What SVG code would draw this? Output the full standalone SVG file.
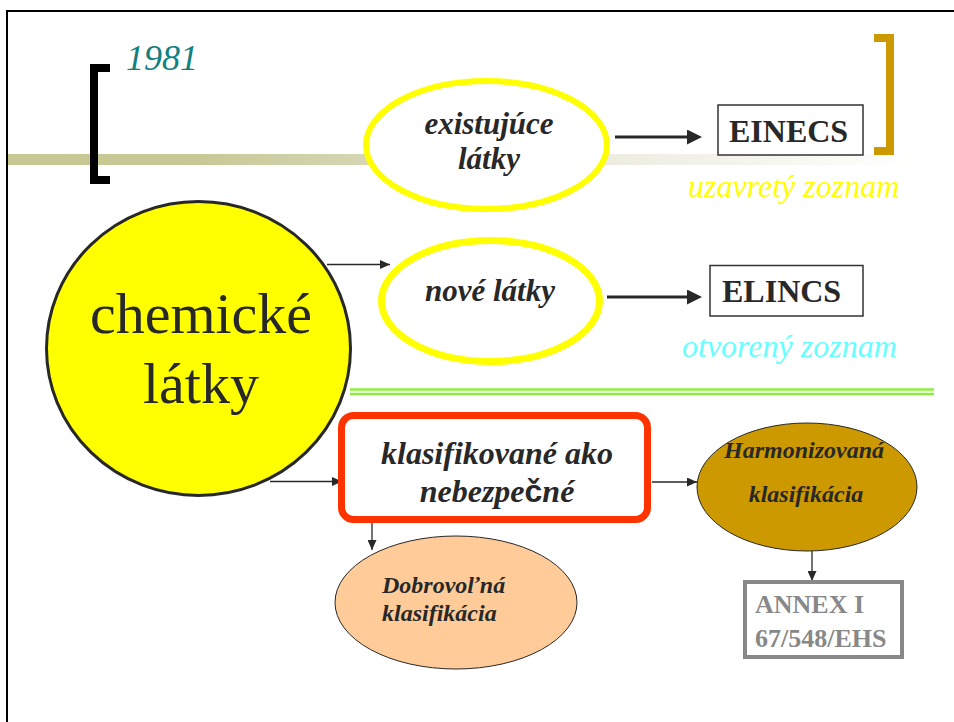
<svg xmlns="http://www.w3.org/2000/svg" width="954" height="722" viewBox="0 0 954 722">
<style>
  .serif { font-family: "Liberation Serif", "Times New Roman", serif; }
  .bi { font-family: "Liberation Serif", "Times New Roman", serif; font-weight: bold; font-style: italic; fill: #282828; }
  .b { font-family: "Liberation Serif", "Times New Roman", serif; font-weight: bold; fill: #282828; }
  .it { font-family: "Liberation Serif", "Times New Roman", serif; font-style: italic; }
  .mid { text-anchor: middle; }
  .thick { stroke: #282828; stroke-width: 3; fill: none; }
  .thin { stroke: #282828; stroke-width: 1.3; fill: none; }
  .yell { fill: #ffffff; stroke: #ffff00; }
</style>
<defs>
  <linearGradient id="band" gradientUnits="userSpaceOnUse" x1="8" y1="0" x2="920" y2="0">
    <stop offset="0" stop-color="#c8c894"/>
    <stop offset="0.22" stop-color="#c9c998"/>
    <stop offset="0.4" stop-color="#d6d6b6"/>
    <stop offset="0.66" stop-color="#ecece0"/>
    <stop offset="1" stop-color="#ffffff"/>
  </linearGradient>
  <marker id="bigArrow" markerUnits="userSpaceOnUse" markerWidth="15" markerHeight="15" refX="3" refY="7.5" orient="auto">
    <path d="M0,0 L15,7.5 L0,15 z" fill="#282828"/>
  </marker>
  <marker id="smallArrow" markerUnits="userSpaceOnUse" markerWidth="10" markerHeight="9" refX="10" refY="4.5" orient="auto">
    <path d="M0,0 L10,4.5 L0,9 z" fill="#282828"/>
  </marker>
</defs>

<rect width="954" height="722" fill="#ffffff"/>
<rect id="frame" x="7" y="11" width="960" height="730" fill="none" stroke="#000000" stroke-width="2"/>

<g id="decor">
  <rect x="8" y="154" width="912" height="11" fill="url(#band)"/>
  <path d="M110,68 H94 V180 H110" fill="none" stroke="#000000" stroke-width="8"/>
  <text class="it" x="126" y="70" font-size="36" fill="#138080">1981</text>
  <path d="M874,38 H890 V151 H874" fill="none" stroke="#cc9900" stroke-width="8"/>
  <line x1="350" y1="389.5" x2="934" y2="389.5" stroke="#8fee3c" stroke-width="2.5"/>
  <line x1="350" y1="394" x2="934" y2="394" stroke="#8fee3c" stroke-width="2.5"/>
  <line x1="350" y1="391.7" x2="934" y2="391.7" stroke="#e4ffd0" stroke-width="1.2"/>
</g>

<g id="connectors">
  <line class="thick" x1="615" y1="137" x2="690" y2="137" marker-end="url(#bigArrow)"/>
  <line class="thick" x1="607" y1="297" x2="690" y2="297" marker-end="url(#bigArrow)"/>
  <line class="thin" x1="327" y1="264.5" x2="390" y2="264.5" marker-end="url(#smallArrow)"/>
  <line class="thin" x1="270" y1="481.5" x2="342" y2="481.5" marker-end="url(#smallArrow)"/>
  <line class="thin" x1="652" y1="482" x2="697" y2="482" marker-end="url(#smallArrow)"/>
  <line class="thin" x1="372" y1="523" x2="372" y2="550" marker-end="url(#smallArrow)"/>
  <line class="thin" x1="812" y1="551" x2="812" y2="581" marker-end="url(#smallArrow)"/>
</g>

<g id="existujuce">
  <ellipse class="yell" cx="486.5" cy="145" rx="120.5" ry="64" stroke-width="6"/>
  <text class="bi mid" x="489" y="134" font-size="31">existujúce</text>
  <text class="bi mid" x="489" y="169" font-size="31">látky</text>
</g>

<g id="einecs">
  <rect x="718" y="105" width="145" height="50" fill="#ffffff" stroke="#333333" stroke-width="1.5"/>
  <text class="b" x="729" y="142" font-size="32">EINECS</text>
  <text class="it" x="688" y="197" font-size="32" fill="#ffff00">uzavretý zoznam</text>
</g>

<g id="chemicke">
  <ellipse cx="198.5" cy="348.5" rx="152" ry="147" fill="#ffff00" stroke="#282828" stroke-width="3"/>
  <text class="serif mid" x="201" y="333" font-size="58" fill="#282828">chemické</text>
  <text class="serif mid" x="201" y="403" font-size="58" fill="#282828">látky</text>
</g>

<g id="nove">
  <ellipse class="yell" cx="490.5" cy="301" rx="109" ry="60.5" stroke-width="7"/>
  <text class="bi mid" x="490" y="301" font-size="31">nové látky</text>
</g>

<g id="elincs">
  <rect x="710" y="265.5" width="153" height="50.5" fill="#ffffff" stroke="#333333" stroke-width="1.5"/>
  <text class="b" x="722" y="302" font-size="32">ELINCS</text>
  <text class="it" x="682" y="357" font-size="32" fill="#66ffff">otvorený zoznam</text>
</g>

<g id="klasifikovane">
  <rect x="341.5" y="415.5" width="306" height="104" rx="12" fill="#ffffff" stroke="#ff3300" stroke-width="7"/>
  <text class="bi mid" x="497" y="464" font-size="32">klasifikované ako</text>
  <text class="bi mid" x="497" y="502" font-size="32">nebezpe<tspan font-family="Liberation Sans, Arial, sans-serif" font-style="normal">č</tspan>né</text>
</g>

<g id="harmonizovana">
  <ellipse cx="807" cy="487" rx="110" ry="64" fill="#cc9900" stroke="#282828" stroke-width="1"/>
  <text class="bi mid" x="804" y="458" font-size="24">Harmonizovaná</text>
  <text class="bi mid" x="806" y="502" font-size="24">klasifikácia</text>
</g>

<g id="dobrovolna">
  <ellipse cx="456" cy="602.5" rx="121" ry="66.5" fill="#ffcc99" stroke="#282828" stroke-width="1"/>
  <text class="bi" x="382" y="593" font-size="24">Dobrovoľná</text>
  <text class="bi" x="382" y="621" font-size="24">klasifikácia</text>
</g>

<g id="annex">
  <rect x="745" y="582" width="157" height="75" fill="#ffffff" stroke="#888888" stroke-width="4"/>
  <text class="b" x="755" y="613" font-size="26" style="fill:#888888">ANNEX I</text>
  <text class="b" x="755" y="647" font-size="26" style="fill:#888888">67/548/EHS</text>
</g>
</svg>
